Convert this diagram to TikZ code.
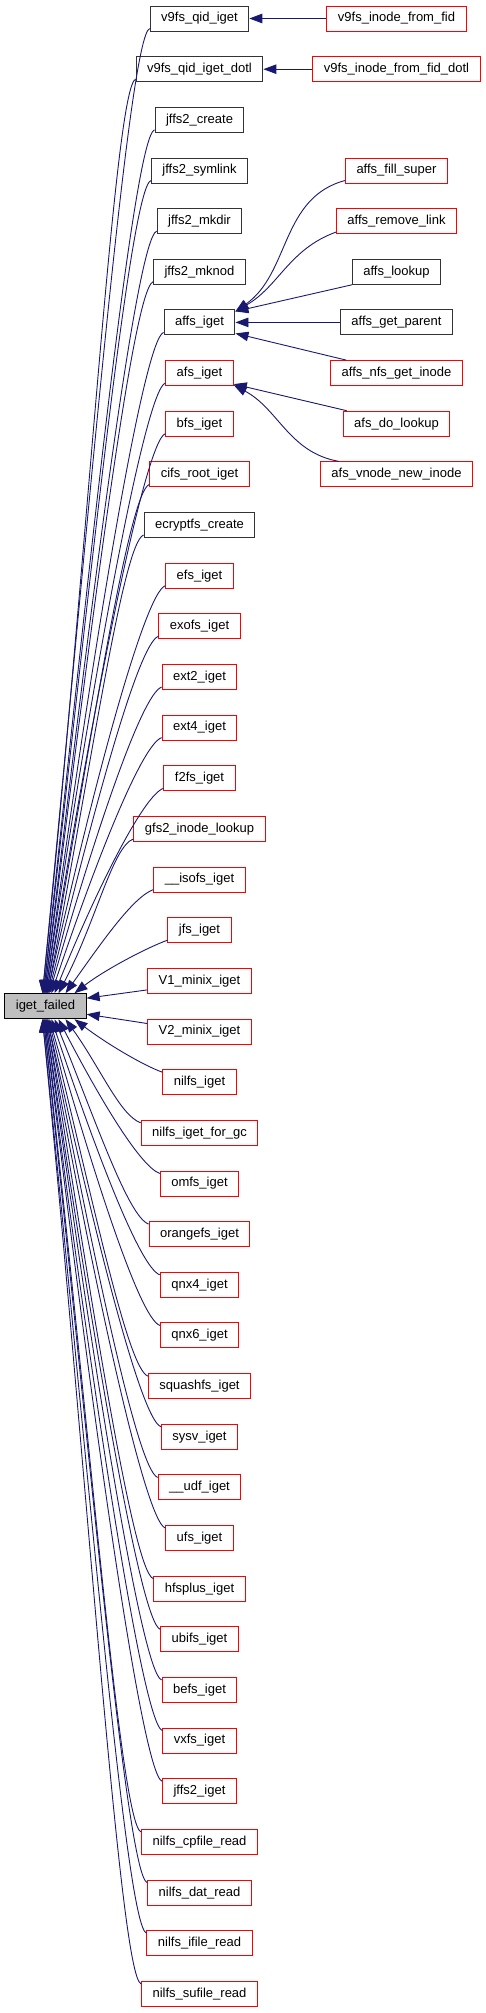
\documentclass[tikz,border=0pt]{standalone}
\usepackage{fontspec}
\setmainfont{Liberation Sans}
\usetikzlibrary{arrows.meta}
\definecolor{edgeblue}{RGB}{25,25,112}
\definecolor{nodered}{RGB}{255,0,0}
\definecolor{nodegray}{RGB}{191,191,191}

\begin{document}
\begin{tikzpicture}[x=1pt, y=1pt, font=\fontsize{13}{15}\selectfont,
  >={Triangle[length=13pt,width=9.5pt]},
  fn/.style={rectangle, draw=black!80, line width=1pt, fill=white,
             inner xsep=11pt, inner ysep=0pt, minimum height=25pt},
  fnred/.style={fn, draw=nodered},
  edge/.style={<-, draw=edgeblue, line width=0.9pt}]
  \useasboundingbox (0,0) rectangle (485,-2013);

  % the function itself
  \node[fn, draw=black, fill=nodegray] (ig) at (45.5,-1006.2) {iget\_failed};

  % direct callers
  \node[fn]    (qid)      at (199.5,-18.5)   {v9fs\_qid\_iget};
  \node[fn]    (qiddotl)  at (199.5,-69.2)   {v9fs\_qid\_iget\_dotl};
  \node[fn]    (jcreate)  at (199.5,-119.8)  {jffs2\_create};
  \node[fn]    (jsymlink) at (199.5,-170.5)  {jffs2\_symlink};
  \node[fn]    (jmkdir)   at (199.5,-221.1)  {jffs2\_mkdir};
  \node[fn]    (jmknod)   at (199.5,-271.8)  {jffs2\_mknod};
  \node[fn]    (affs)     at (199.5,-322.4)  {affs\_iget};
  \node[fnred] (afs)      at (199.5,-373.1)  {afs\_iget};
  \node[fnred] (bfs)      at (199.5,-423.7)  {bfs\_iget};
  \node[fnred] (cifs)     at (199.5,-474.4)  {cifs\_root\_iget};
  \node[fn]    (ecryptfs) at (199.5,-525)    {ecryptfs\_create};
  \node[fnred] (efs)      at (199.5,-575.7)  {efs\_iget};
  \node[fnred] (exofs)    at (199.5,-626.3)  {exofs\_iget};
  \node[fnred] (ext2)     at (199.5,-677)    {ext2\_iget};
  \node[fnred] (ext4)     at (199.5,-727.6)  {ext4\_iget};
  \node[fnred] (f2fs)     at (199.5,-778.3)  {f2fs\_iget};
  \node[fnred] (gfs2)     at (199.5,-828.9)  {gfs2\_inode\_lookup};
  \node[fnred] (isofs)    at (199.5,-879.6)  {\_\_isofs\_iget};
  \node[fnred] (jfs)      at (199.5,-930.2)  {jfs\_iget};
  \node[fnred] (minix1)   at (199.5,-980.9)  {V1\_minix\_iget};
  \node[fnred] (minix2)   at (199.5,-1031.5) {V2\_minix\_iget};
  \node[fnred] (nilfs)    at (199.5,-1082.2) {nilfs\_iget};
  \node[fnred] (nilfsgc)  at (199.5,-1132.8) {nilfs\_iget\_for\_gc};
  \node[fnred] (omfs)     at (199.5,-1183.5) {omfs\_iget};
  \node[fnred] (orangefs) at (199.5,-1234.1) {orangefs\_iget};
  \node[fnred] (qnx4)     at (199.5,-1284.8) {qnx4\_iget};
  \node[fnred] (qnx6)     at (199.5,-1335.4) {qnx6\_iget};
  \node[fnred] (squashfs) at (199.5,-1386.1) {squashfs\_iget};
  \node[fnred] (sysv)     at (199.5,-1436.7) {sysv\_iget};
  \node[fnred] (udf)      at (199.5,-1487.4) {\_\_udf\_iget};
  \node[fnred] (ufs)      at (199.5,-1538)   {ufs\_iget};
  \node[fnred] (hfsplus)  at (199.5,-1588.7) {hfsplus\_iget};
  \node[fnred] (ubifs)    at (199.5,-1639.3) {ubifs\_iget};
  \node[fnred] (befs)     at (199.5,-1690)   {befs\_iget};
  \node[fnred] (vxfs)     at (199.5,-1740.6) {vxfs\_iget};
  \node[fnred] (jffs2)    at (199.5,-1791.3) {jffs2\_iget};
  \node[fnred] (cpfile)   at (199.5,-1841.9) {nilfs\_cpfile\_read};
  \node[fnred] (dat)      at (199.5,-1892.6) {nilfs\_dat\_read};
  \node[fnred] (ifile)    at (199.5,-1943.2) {nilfs\_ifile\_read};
  \node[fnred] (sufile)   at (199.5,-1993.9) {nilfs\_sufile\_read};

  % second level callers
  \node[fnred] (fromfid)     at (396.5,-18.5)  {v9fs\_inode\_from\_fid};
  \node[fnred] (fromfiddotl) at (396.5,-69.2)  {v9fs\_inode\_from\_fid\_dotl};
  \node[fnred] (fillsuper)   at (396.5,-170.5) {affs\_fill\_super};
  \node[fnred] (removelink)  at (396.5,-221.1) {affs\_remove\_link};
  \node[fn]    (lookup)      at (396.5,-271.8) {affs\_lookup};
  \node[fn]    (getparent)   at (396.5,-322.4) {affs\_get\_parent};
  \node[fnred] (nfsinode)    at (396.5,-373.1) {affs\_nfs\_get\_inode};
  \node[fnred] (dolookup)    at (396.5,-423.7) {afs\_do\_lookup};
  \node[fnred] (vnodenew)    at (396.5,-474.4) {afs\_vnode\_new\_inode};

  \draw[edge] (qid) -- (fromfid);
  \draw[edge] (qiddotl) -- (fromfiddotl);
  \draw[edge] ([yshift=-2pt]affs.north east) to[out=35, in=195] ([yshift=3pt]fillsuper.south west);
  \draw[edge] ([yshift=-2pt]affs.north east) to[out=30, in=200] ([yshift=2pt]removelink.south west);
  \draw[edge] ([yshift=-2pt]affs.north east) -- (lookup.south west);
  \draw[edge] (affs) -- (getparent);
  \draw[edge] ([yshift=2pt]affs.south east) -- ([xshift=16pt]nfsinode.north west);
  \draw[edge] ([yshift=2pt]afs.south east) -- ([xshift=4pt]dolookup.north west);
  \draw[edge] ([yshift=1pt]afs.south east) to[out=-28, in=170] ([xshift=19pt]vnodenew.north west);

  % callers above iget_failed
  \foreach \n/\k/\dx in {qid/0/-3, qiddotl/1/-3, jcreate/2/-2, jsymlink/3/-2,
      jmkdir/4/-1, jmknod/5/-1, affs/6/0, afs/7/0, bfs/8/1, cifs/9/1,
      ecryptfs/10/2, efs/11/2, exofs/12/3, ext2/13/4, ext4/14/6, f2fs/15/9,
      gfs2/16/13, isofs/17/20, jfs/18/29}{
    \pgfmathsetmacro\yk{18.5+50.65*\k}
    \pgfmathsetmacro\a{atan2(977-\yk,89.5-\dx)}
    \pgfmathsetmacro\od{0.5*veclen(89.5-\dx,977-\yk)}
    \draw[edge] ([xshift=\dx pt]ig.north) to[out=\a, in=200, out distance=\od pt, in distance=22pt] ([yshift=3pt]\n.south west);
  }
  % callers below iget_failed
  \foreach \n/\k/\dx in {nilfs/21/29, nilfsgc/22/20, omfs/23/13, orangefs/24/9,
      qnx4/25/6, qnx6/26/4, squashfs/27/3, sysv/28/2, udf/29/2, ufs/30/1,
      hfsplus/31/1, ubifs/32/0, befs/33/0, vxfs/34/-1, jffs2/35/-1,
      cpfile/36/-2, dat/37/-2, ifile/38/-3, sufile/39/-3}{
    \pgfmathsetmacro\yk{18.5+50.65*\k}
    \pgfmathsetmacro\a{atan2(1036-\yk,89.5-\dx)}
    \pgfmathsetmacro\od{0.5*veclen(89.5-\dx,1036-\yk)}
    \draw[edge] ([xshift=\dx pt]ig.south) to[out=\a, in=160, out distance=\od pt, in distance=22pt] ([yshift=-3pt]\n.north west);
  }
  \draw[edge] ([yshift=8pt]ig.east) -- ([yshift=-9pt]minix1.west);
  \draw[edge] ([yshift=-8pt]ig.east) -- ([yshift=8pt]minix2.west);
\end{tikzpicture}
\end{document}
